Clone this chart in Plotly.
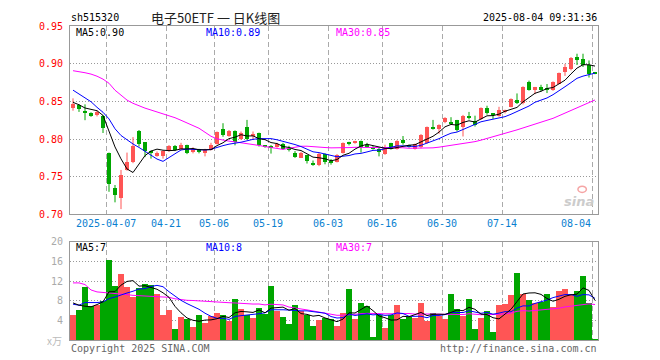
import plotly.graph_objects as go
import pandas as pd

# ---------------- data ----------------
dates = (["2025-03-27", "2025-03-28", "2025-03-31", "2025-04-01", "2025-04-02", "2025-04-03",
          "2025-04-07", "2025-04-08", "2025-04-09", "2025-04-10", "2025-04-11",
          "2025-04-14", "2025-04-15", "2025-04-16", "2025-04-17", "2025-04-18",
          "2025-04-21", "2025-04-22", "2025-04-23", "2025-04-24", "2025-04-25",
          "2025-04-28", "2025-04-29", "2025-04-30",
          "2025-05-06", "2025-05-07", "2025-05-08", "2025-05-09",
          "2025-05-12", "2025-05-13", "2025-05-14", "2025-05-15", "2025-05-16",
          "2025-05-19", "2025-05-20", "2025-05-21", "2025-05-22", "2025-05-23",
          "2025-05-26", "2025-05-27", "2025-05-28", "2025-05-29", "2025-05-30",
          "2025-06-03", "2025-06-04", "2025-06-05", "2025-06-06",
          "2025-06-09", "2025-06-10", "2025-06-11", "2025-06-12", "2025-06-13",
          "2025-06-16", "2025-06-17", "2025-06-18", "2025-06-19", "2025-06-20",
          "2025-06-23", "2025-06-24", "2025-06-25", "2025-06-26", "2025-06-27",
          "2025-06-30", "2025-07-01", "2025-07-02", "2025-07-03", "2025-07-04",
          "2025-07-07", "2025-07-08", "2025-07-09", "2025-07-10", "2025-07-11",
          "2025-07-14", "2025-07-15", "2025-07-16", "2025-07-17", "2025-07-18",
          "2025-07-21", "2025-07-22", "2025-07-23", "2025-07-24", "2025-07-25",
          "2025-07-28", "2025-07-29", "2025-07-30", "2025-07-31", "2025-08-01",
          "2025-08-04"])

opens = [0.841, 0.845, 0.8376, 0.8346, 0.832, 0.831, 0.782, 0.7346, 0.7224, 0.759,
         0.769, 0.811, 0.7955, 0.784, 0.778, 0.778, 0.784, 0.791, 0.787, 0.7916,
         0.783, 0.7864, 0.782, 0.786, 0.794, 0.8136, 0.8047, 0.8105, 0.8004, 0.8166,
         0.8045, 0.8083, 0.7916, 0.791, 0.7895, 0.7938, 0.788, 0.782, 0.7754, 0.7784,
         0.7688, 0.7653, 0.7807, 0.7705, 0.7697, 0.782, 0.7951, 0.7951, 0.7977, 0.7916,
         0.7895, 0.7872, 0.7807, 0.7947, 0.7872, 0.799, 0.792, 0.7872, 0.7895, 0.7947,
         0.8166, 0.8136, 0.8224, 0.8232, 0.8254, 0.8166, 0.831, 0.8245, 0.8267, 0.8412,
         0.8342, 0.831, 0.8355, 0.8429, 0.8517, 0.8474, 0.8758, 0.8649, 0.8684, 0.8675,
         0.8649, 0.8737, 0.889, 0.8934, 0.9087, 0.9057, 0.8982, 0.888]
highs = [0.854, 0.846, 0.846, 0.8355, 0.838, 0.832, 0.782, 0.739, 0.759, 0.782,
         0.8026, 0.812, 0.796, 0.785, 0.7835, 0.785, 0.792, 0.792, 0.795, 0.7925,
         0.789, 0.787, 0.787, 0.795, 0.810, 0.821, 0.812, 0.8115, 0.810, 0.8254,
         0.810, 0.8085, 0.7916, 0.792, 0.795, 0.795, 0.791, 0.784, 0.783, 0.779,
         0.7715, 0.7815, 0.781, 0.7735, 0.780, 0.7955, 0.7964, 0.7977, 0.798, 0.795,
         0.791, 0.788, 0.7925, 0.795, 0.7985, 0.804, 0.7925, 0.794, 0.8066, 0.8166,
         0.8254, 0.8195, 0.829, 0.829, 0.8254, 0.832, 0.836, 0.831, 0.842, 0.8442,
         0.8342, 0.8428, 0.839, 0.854, 0.8605, 0.870, 0.8775, 0.8692, 0.872, 0.873,
         0.8765, 0.8882, 0.8997, 0.9088, 0.9132, 0.9132, 0.9043, 0.889]
lows = [0.8376, 0.836, 0.825, 0.8295, 0.830, 0.808, 0.730, 0.716, 0.707, 0.758,
        0.768, 0.790, 0.776, 0.774, 0.7765, 0.774, 0.783, 0.784, 0.786, 0.780,
        0.781, 0.781, 0.777, 0.785, 0.793, 0.803, 0.803, 0.7916, 0.799, 0.799,
        0.800, 0.790, 0.7885, 0.7807, 0.7885, 0.786, 0.7835, 0.775, 0.775, 0.7675,
        0.7645, 0.764, 0.7665, 0.766, 0.769, 0.7807, 0.7916, 0.7938, 0.782, 0.7885,
        0.786, 0.777, 0.779, 0.786, 0.786, 0.7925, 0.7885, 0.786, 0.7877, 0.794,
        0.8125, 0.807, 0.821, 0.8196, 0.810, 0.8034, 0.826, 0.8166, 0.8254, 0.8324,
        0.8267, 0.8297, 0.834, 0.842, 0.8465, 0.846, 0.8642, 0.8596, 0.863, 0.861,
        0.864, 0.8728, 0.8838, 0.8912, 0.8982, 0.8956, 0.8816, 0.886]
closes = [0.846, 0.840, 0.835, 0.831, 0.836, 0.8145, 0.740, 0.726, 0.752, 0.769,
          0.791, 0.794, 0.784, 0.782, 0.782, 0.784, 0.791, 0.786, 0.7916, 0.7816,
          0.787, 0.783, 0.786, 0.7916, 0.8087, 0.806, 0.8105, 0.7955, 0.808, 0.8004,
          0.8066, 0.7916, 0.7895, 0.7885, 0.7938, 0.7872, 0.785, 0.7763, 0.7816, 0.7705,
          0.7666, 0.7807, 0.7697, 0.7684, 0.7784, 0.7951, 0.7938, 0.7973, 0.7895, 0.7895,
          0.7872, 0.783, 0.7895, 0.7872, 0.7973, 0.7947, 0.7903, 0.7929, 0.8053, 0.8166,
          0.8132, 0.818, 0.828, 0.821, 0.8122, 0.831, 0.829, 0.8192, 0.8408, 0.8342,
          0.8324, 0.8385, 0.8385, 0.853, 0.8474, 0.8692, 0.8649, 0.8692, 0.8662, 0.8658,
          0.8758, 0.8872, 0.8955, 0.9079, 0.9043, 0.8982, 0.8868, 0.8868]
volumes = [5.1, 6.1, 10.9, 6.9, 7.1, 7.9, 16.3, 11.1, 13.5, 10.9,
           8.7, 10.7, 11.5, 11.3, 9.5, 5.1, 6.1, 2.3, 4.7, 4.3,
           2.7, 5.1, 3.5, 4.9, 5.5, 5.1, 3.9, 8.3, 6.3, 5.1,
           4.5, 6.5, 5.3, 11.1, 5.9, 4.7, 3.3, 7.1, 5.9, 5.1,
           2.9, 4.1, 4.5, 4.3, 2.9, 5.5, 10.5, 4.3, 7.5, 6.9,
           0.7, 5.1, 2.5, 5.1, 7.1, 4.3, 4.7, 4.5, 7.5, 3.9,
           5.5, 4.9, 4.3, 9.5, 6.3, 4.9, 8.3, 2.3, 4.5, 5.9,
           1.7, 7.1, 7.3, 9.3, 13.7, 9.5, 8.1, 7.5, 7.7, 9.5,
           6.7, 10.1, 10.5, 9.3, 10.1, 13.1, 7.5, 0.3]

# moving-average values before enough in-window history exists
ma5_head = [0.8487, 0.8455, 0.8412, 0.839]
ma10_head = [0.8649, 0.8596, 0.8553, 0.8495, 0.8421, 0.8355, 0.8267, 0.8136, 0.8047]
ma30_head = [0.8907, 0.8897, 0.888, 0.8862, 0.8834, 0.8795, 0.874, 0.8648, 0.8576, 0.8517,
             0.8474, 0.8438, 0.841, 0.8385, 0.8362, 0.8338, 0.8315, 0.8283, 0.8249, 0.8217,
             0.8181, 0.8143, 0.809, 0.8037, 0.8002, 0.7985, 0.7972, 0.7962, 0.7952]
vma5_head = [7.56, 7.09, 6.89, 6.76]
vma10_head = [7.3, 7.09, 7.63, 7.56, 7.63, 7.76, 8.43, 8.76, 9.1]
vma30_head = [11.64, 11.64, 11.3, 10.2, 9.8, 9.7, 9.7, 9.55, 9.43, 9.25,
              9.1, 9.05, 9.0, 8.96, 8.9, 8.8, 8.7, 8.4, 8.2, 8.09,
              8.05, 7.95, 7.85, 7.8, 7.75, 7.7, 7.6, 7.55, 7.45]

tick_dates = ["2025-04-07", "2025-04-21", "2025-05-06", "2025-05-19", "2025-06-03",
              "2025-06-16", "2025-06-30", "2025-07-14", "2025-08-04"]
price_ticks = [0.70, 0.75, 0.80, 0.85, 0.90, 0.95]
vol_ticks = [4, 8, 12, 16, 20]

symbol = "sh515320"
title = "电子50ETF 一 日K线图"
timestamp = "2025-08-04 09:31:36"
price_ma_labels = ["MA5:0.90", "MA10:0.89", "MA30:0.85"]
vol_ma_labels = ["MA5:7", "MA10:8", "MA30:7"]

# ---------------- derived ----------------
RED = "#ff5555"
GREEN = "#00a600"
MONO = "DejaVu Sans Mono"

n = len(dates)
idx = list(range(n))
up = [c >= o for o, c in zip(opens, closes)]
colors = [RED if u else GREEN for u in up]
body_base = [min(o, c) for o, c in zip(opens, closes)]
body_h = [max(abs(c - o), 0.0013) for o, c in zip(opens, closes)]


def with_head(series, head):
    vals = series.tolist()
    vals[:len(head)] = head
    return vals


cs = pd.Series(closes)
vs = pd.Series(volumes)
ma5 = with_head(cs.rolling(5).mean(), ma5_head)
ma10 = with_head(cs.rolling(10).mean(), ma10_head)
ma30 = with_head(cs.rolling(30).mean(), ma30_head)
vma5 = with_head(vs.rolling(5).mean(), vma5_head)
vma10 = with_head(vs.rolling(10).mean(), vma10_head)
vma30 = with_head(vs.rolling(30).mean(), vma30_head)


def wick_xy(flag):
    xs, ys = [], []
    for i in idx:
        if up[i] == flag:
            xs += [i, i, None]
            ys += [lows[i], highs[i], None]
    return xs, ys


fig = go.Figure()

for flag, col in ((True, RED), (False, GREEN)):
    wx, wy = wick_xy(flag)
    fig.add_trace(go.Scatter(x=wx, y=wy, mode="lines", line=dict(color=col, width=1),
                             xaxis="x", yaxis="y", hoverinfo="skip", showlegend=False))

fig.add_trace(go.Bar(x=idx, y=body_h, base=body_base, width=0.8,
                     marker=dict(color=colors, line=dict(width=0)),
                     xaxis="x", yaxis="y", showlegend=False))

for vals, col in ((ma30, "#ff00ff"), (ma10, "#0000ff"), (ma5, "#000000")):
    fig.add_trace(go.Scatter(x=idx, y=vals, mode="lines", line=dict(color=col, width=1),
                             xaxis="x", yaxis="y", showlegend=False))

fig.add_trace(go.Bar(x=idx, y=volumes, width=0.84,
                     marker=dict(color=colors, line=dict(width=0)),
                     xaxis="x2", yaxis="y2", showlegend=False))

for vals, col in ((vma30, "#ff00ff"), (vma10, "#0000ff"), (vma5, "#000000")):
    fig.add_trace(go.Scatter(x=idx, y=vals, mode="lines", line=dict(color=col, width=1),
                             xaxis="x2", yaxis="y2", showlegend=False))

tick_pos = [dates.index(d) - 0.5 for d in tick_dates]
tick_txt = [tick_dates[0]] + [d[5:] for d in tick_dates[1:]]

xaxis_common = dict(range=[-0.5, n - 0.5], tickvals=tick_pos, showticklabels=False,
                    showgrid=True, gridcolor="#aaaaaa", griddash="5px,3px", gridwidth=1,
                    showline=True, mirror=True, linecolor="#999999", linewidth=1,
                    zeroline=False, ticks="", fixedrange=True)

# the page body has an 8px margin, so the figure is sized/margined to land the
# plot area at x 70..598, y 20..340 of the 660x360 window
fig.update_layout(
    width=652, height=352,
    margin=dict(l=62, r=62, t=12, b=20),
    paper_bgcolor="white", plot_bgcolor="white",
    barmode="overlay", bargap=0,
    xaxis=dict(domain=[0, 1], anchor="y", **xaxis_common),
    xaxis2=dict(domain=[0, 1], anchor="y2", **xaxis_common),
    yaxis=dict(domain=[0.4, 1], range=[0.70, 0.95], tickvals=price_ticks,
               ticktext=[f"{v:.2f}" for v in price_ticks],
               tickfont=dict(family=MONO, size=10, color="#ff0000"),
               showgrid=True, gridcolor="#999999", griddash="1px,2px", gridwidth=1,
               showline=True, mirror=True, linecolor="#999999", linewidth=1,
               zeroline=False, ticks="", ticklabelstandoff=4),
    yaxis2=dict(domain=[0, 0.3125], range=[0, 20], tickvals=vol_ticks,
                ticktext=[str(v) for v in vol_ticks],
                tickfont=dict(family=MONO, size=10, color="#aaaaaa"),
                showgrid=True, gridcolor="#999999", griddash="1px,2px", gridwidth=1,
                showline=True, mirror=True, linecolor="#999999", linewidth=1,
                zeroline=False, ticks="", ticklabelstandoff=4),
)

ann = []
for p, t, i in zip(tick_pos, tick_txt, range(len(tick_pos))):
    ann.append(dict(x=p, y=0.372, xref="x", yref="paper", text=t, showarrow=False,
                    xanchor="right" if i == len(tick_pos) - 1 else "center", yanchor="middle",
                    font=dict(family=MONO, size=10, color="#0a7fd0")))

ma_cols = ["#000000", "#0000ff", "#ff00ff"]
ma_x = [0.0095, 0.2557, 0.5019]
for lab, col, x in zip(price_ma_labels, ma_cols, ma_x):
    ann.append(dict(x=x, y=0.979, xref="paper", yref="paper", text=lab, showarrow=False,
                    xanchor="left", yanchor="middle", font=dict(family=MONO, size=10, color=col)))
for lab, col, x in zip(vol_ma_labels, ma_cols, ma_x):
    ann.append(dict(x=x, y=0.294, xref="paper", yref="paper", text=lab, showarrow=False,
                    xanchor="left", yanchor="middle", font=dict(family=MONO, size=10, color=col)))

ann += [
    dict(x=0, y=1.026, xref="paper", yref="paper", text=symbol, showarrow=False,
         xanchor="left", yanchor="middle", font=dict(family=MONO, size=10, color="#000000")),
    dict(x=0.151, y=1.028, xref="paper", yref="paper", text=title, showarrow=False,
         xanchor="left", yanchor="middle",
         font=dict(family="Noto Sans CJK SC", size=13, color="#222222")),
    dict(x=1.0, y=1.026, xref="paper", yref="paper", text=timestamp, showarrow=False,
         xanchor="right", yanchor="middle", font=dict(family=MONO, size=10, color="#000000")),
    dict(x=0, y=-0.026, xref="paper", yref="paper", text="Copyright 2025 SINA.COM",
         showarrow=False, xanchor="left", yanchor="middle",
         font=dict(family=MONO, size=10, color="#666666")),
    dict(x=1.0, y=-0.026, xref="paper", yref="paper", text="http://finance.sina.com.cn",
         showarrow=False, xanchor="right", yanchor="middle",
         font=dict(family=MONO, size=10, color="#666666")),
    dict(x=-0.013, y=0.0, xref="paper", yref="paper", text="x万", showarrow=False,
         xanchor="right", yanchor="middle",
         font=dict(family="Noto Sans CJK SC", size=10, color="#bbbbbb")),
    dict(x=0.995, y=0.44, xref="paper", yref="paper", text="<b><i>sina</i></b>", showarrow=False,
         xanchor="right", yanchor="middle",
         font=dict(family="DejaVu Sans", size=13, color="#cccccc")),
]
for a in ann:
    a["borderpad"] = 0
fig.update_layout(annotations=ann)

fig.add_shape(type="circle", xref="paper", yref="paper",
              x0=0.962, x1=0.978, y0=0.47, y1=0.49,
              line=dict(color="#f5a5a5", width=1.5), fillcolor="rgba(0,0,0,0)")

fig.write_html("out.html")
